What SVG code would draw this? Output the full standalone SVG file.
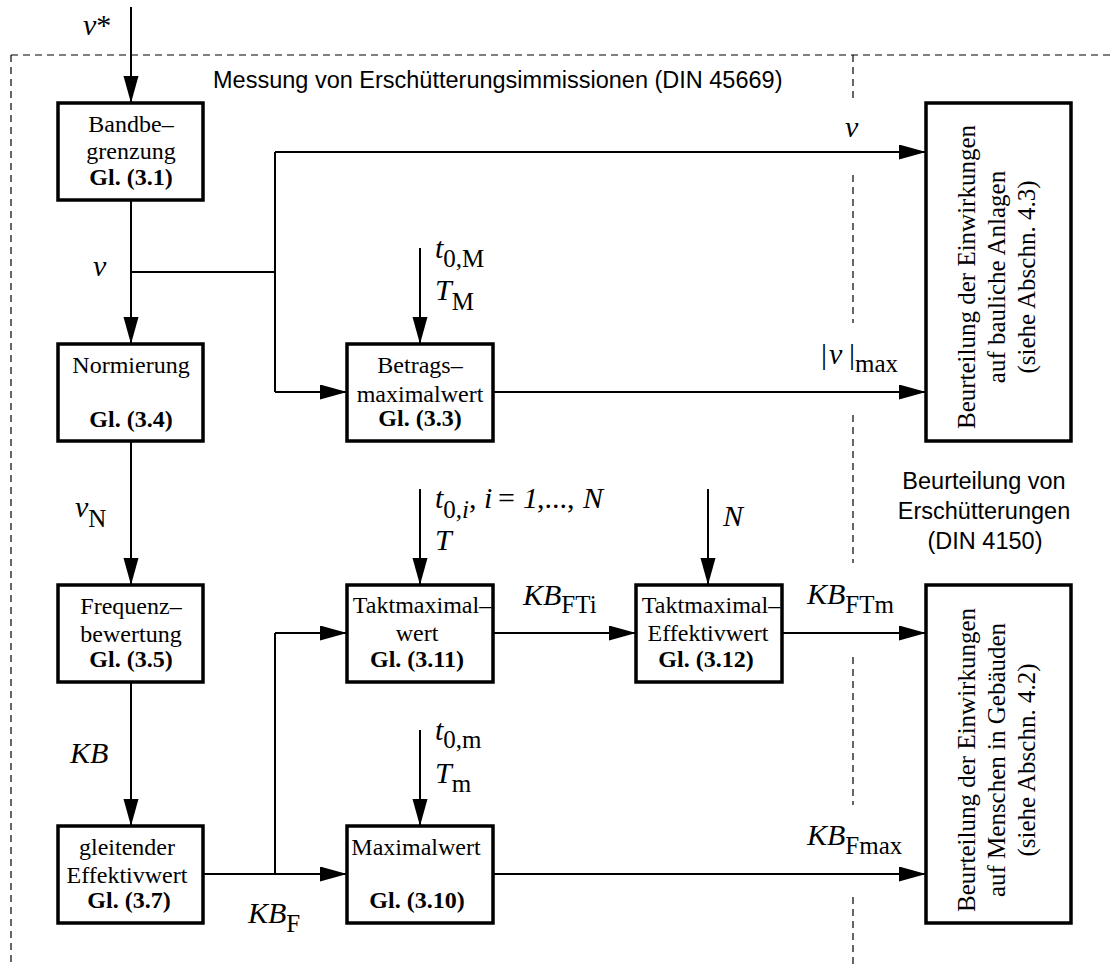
<svg xmlns="http://www.w3.org/2000/svg" width="1113" height="970" viewBox="0 0 1113 970">
<defs>
<marker id="ah" markerUnits="userSpaceOnUse" markerWidth="28" markerHeight="16" refX="27" refY="7.5" orient="auto">
<path d="M0,0 L27,7.5 L0,15 z" fill="#000"/>
</marker>
<style>
.box{fill:#fff;stroke:#000;stroke-width:3.5}
.con{fill:none;stroke:#000;stroke-width:2}
.arr{fill:none;stroke:#000;stroke-width:2;marker-end:url(#ah)}
.dash{fill:none;stroke:#000;stroke-width:1.2;stroke-dasharray:7,5}
.bt{font-family:"Liberation Serif","Times New Roman",serif;font-size:24px;text-anchor:middle;fill:#000}
.b{font-weight:bold}
.rt{font-family:"Liberation Serif","Times New Roman",serif;font-size:25px;text-anchor:middle;fill:#000}
.hv{font-family:"Liberation Sans",Arial,sans-serif;font-size:23.5px;fill:#000}
.m{font-family:"Liberation Serif","Times New Roman",serif;font-size:30px;font-style:italic;fill:#000}
.s{font-size:25px;font-style:normal}
.u{font-style:normal}
</style>
</defs>
<rect width="1113" height="970" fill="#fff"/>

<g id="frames">
<path class="dash" d="M11,55 H1113 M11,55 V965"/>
<path class="dash" d="M853,55 V100 M853,175 V323 M853,415 V563 M853,657 V805 M853,897 V965"/>
<text class="hv" x="213" y="88" font-size="24">Messung von Erschütterungsimmissionen (DIN 45669)</text>
<text class="hv" x="984" y="489" text-anchor="middle">Beurteilung von</text>
<text class="hv" x="984" y="519" text-anchor="middle">Erschütterungen</text>
<text class="hv" x="985" y="549" text-anchor="middle">(DIN 4150)</text>
</g>

<g id="connectors">
<path class="arr" d="M131,7 V103"/>
<path class="arr" d="M131,200 V344"/>
<path class="arr" d="M131,441 V585"/>
<path class="arr" d="M131,682 V826"/>
<path class="con" d="M131,272 H275 M275,152 V392"/>
<path class="arr" d="M275,152 H926"/>
<path class="arr" d="M275,392 H347"/>
<path class="arr" d="M493,392 H926"/>
<path class="arr" d="M420,248 V344"/>
<path class="arr" d="M420,489 V585"/>
<path class="arr" d="M708,489 V585"/>
<path class="arr" d="M420,730 V826"/>
<path class="arr" d="M203,874 H347"/>
<path class="con" d="M275,874 V633"/>
<path class="arr" d="M275,633 H347"/>
<path class="arr" d="M493,633 H636"/>
<path class="arr" d="M782,633 H926"/>
<path class="arr" d="M493,874 H926"/>
</g>

<g id="labels">
<text class="m" x="83" y="35">v<tspan class="u">*</tspan></text>
<text class="m" x="93" y="276">v</text>
<text class="m" x="75" y="517">v<tspan class="s" dy="10">N</tspan></text>
<text class="m" x="70" y="763">KB</text>
<text class="m" x="248" y="923">KB<tspan class="s" dy="9">F</tspan></text>
<text class="m" x="845" y="137">v</text>
<text class="m" x="821" y="364"><tspan class="u">|</tspan><tspan x="829">v</tspan><tspan class="u" x="849">|</tspan><tspan class="s" x="855" dy="8">max</tspan></text>
<text class="m" x="435" y="258">t<tspan class="s" dy="9">0,M</tspan></text>
<text class="m" x="435" y="300">T<tspan class="s" dy="10">M</tspan></text>
<text class="m" x="435" y="508">t<tspan class="s" dy="10">0,</tspan><tspan font-size="25">i</tspan><tspan class="u" dy="-10">,</tspan><tspan x="484">i</tspan><tspan class="u" x="498">=</tspan><tspan x="523">1</tspan><tspan class="u" x="537">,...,</tspan><tspan x="583">N</tspan></text>
<text class="m" x="435" y="550">T</text>
<text class="m" x="723" y="526">N</text>
<text class="m" x="523" y="605">KB<tspan class="s" dy="8">FTi</tspan></text>
<text class="m" x="807" y="604">KB<tspan class="s" dy="9">FTm</tspan></text>
<text class="m" x="435" y="740">t<tspan class="s" dy="8">0,m</tspan></text>
<text class="m" x="435" y="783">T<tspan class="s" dy="9">m</tspan></text>
<text class="m" x="807" y="845">KB<tspan class="s" dy="9">Fmax</tspan></text>
</g>

<g id="bandbegrenzung">
<rect class="box" x="58" y="103" width="145" height="97"/>
<text class="bt" x="131" y="132">Bandbe–</text>
<text class="bt" x="131" y="159">grenzung</text>
<text class="bt b" x="131" y="185">Gl. (3.1)</text>
</g>

<g id="normierung">
<rect class="box" x="58" y="344" width="145" height="97"/>
<text class="bt" x="131" y="373">Normierung</text>
<text class="bt b" x="131" y="427">Gl. (3.4)</text>
</g>

<g id="frequenzbewertung">
<rect class="box" x="58" y="585" width="145" height="97"/>
<text class="bt" x="131" y="614">Frequenz–</text>
<text class="bt" x="131" y="642">bewertung</text>
<text class="bt b" x="131" y="667">Gl. (3.5)</text>
</g>

<g id="gleitender">
<rect class="box" x="58" y="826" width="145" height="97"/>
<text class="bt" x="127" y="855">gleitender</text>
<text class="bt" x="127" y="883">Effektivwert</text>
<text class="bt b" x="129" y="908">Gl. (3.7)</text>
</g>

<g id="betragsmaximalwert">
<rect class="box" x="347" y="344" width="146" height="97"/>
<text class="bt" x="420" y="373">Betrags–</text>
<text class="bt" x="420" y="402">maximalwert</text>
<text class="bt b" x="420" y="426">Gl. (3.3)</text>
</g>

<g id="taktmaximalwert">
<rect class="box" x="347" y="585" width="146" height="97"/>
<text class="bt" x="422" y="613">Taktmaximal–</text>
<text class="bt" x="417" y="641">wert</text>
<text class="bt b" x="417" y="667">Gl. (3.11)</text>
</g>

<g id="maximalwert">
<rect class="box" x="347" y="826" width="146" height="97"/>
<text class="bt" x="416" y="855">Maximalwert</text>
<text class="bt b" x="417" y="908">Gl. (3.10)</text>
</g>

<g id="taktmaximal-effektivwert">
<rect class="box" x="636" y="585" width="146" height="97"/>
<text class="bt" x="711" y="613">Taktmaximal–</text>
<text class="bt" x="708" y="641">Effektivwert</text>
<text class="bt b" x="706" y="667">Gl. (3.12)</text>
</g>

<g id="bauliche-anlagen">
<rect class="box" x="926" y="103" width="145" height="338"/>
<text class="rt" transform="translate(975,277) rotate(-90)">Beurteilung der Einwirkungen</text>
<text class="rt" transform="translate(1005,277) rotate(-90)">auf bauliche Anlagen</text>
<text class="rt" transform="translate(1035,277) rotate(-90)">(siehe Abschn. 4.3)</text>
</g>

<g id="menschen-in-gebaeuden">
<rect class="box" x="926" y="585" width="145" height="338"/>
<text class="rt" transform="translate(975,760) rotate(-90)">Beurteilung der Einwirkungen</text>
<text class="rt" transform="translate(1005,760) rotate(-90)">auf Menschen in Gebäuden</text>
<text class="rt" transform="translate(1035,760) rotate(-90)">(siehe Abschn. 4.2)</text>
</g>
</svg>
